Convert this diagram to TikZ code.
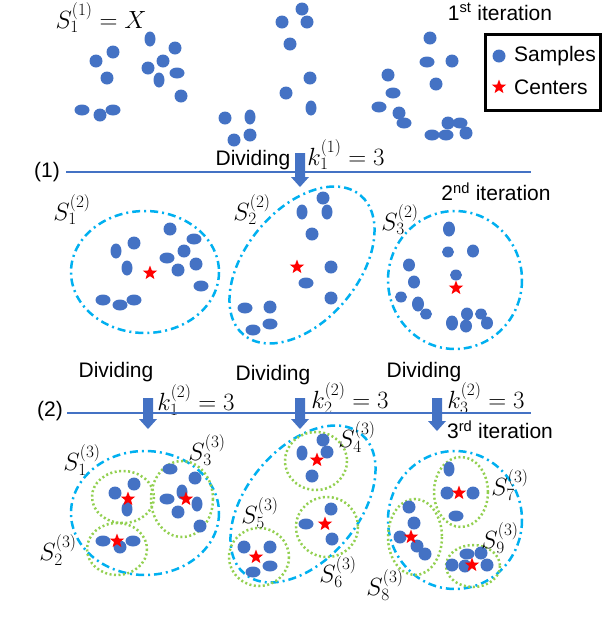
\documentclass[tikz,border=0pt]{standalone}
\usepackage{fontspec}
\setmainfont{Liberation Sans}
\usetikzlibrary{shapes.geometric}
\definecolor{dotblue}{HTML}{4472C4}
\definecolor{cyanl}{HTML}{00B0F0}
\definecolor{greenl}{HTML}{92D050}
\newcommand\blockarr[3]{\fill[dotblue] ({#1-5},#2) -- ({#1+5},#2) -- ({#1+5},{#3-10}) -- ({#1+9},{#3-10}) -- (#1,#3) -- ({#1-9},{#3-10}) -- ({#1-5},{#3-10}) -- cycle;}
\tikzset{
 dotn/.style={ellipse, fill=dotblue, inner sep=0, minimum width=13, minimum height=13},
 dotw/.style={dotn, minimum width=15, minimum height=11},
 dott/.style={dotn, minimum width=11, minimum height=15},
 starn/.style={star, star points=5, star point ratio=2.4, fill=red, inner sep=0, minimum size=15},
 bigell/.style={cyanl, line width=2.5pt, dash pattern=on 8pt off 4pt on 2pt off 4pt},
 smallell/.style={greenl, line width=2.5pt, dash pattern=on 2pt off 2.5pt},
 lbl/.style={font=\fontsize{21}{24}\selectfont, inner sep=0},
 mlbl/.style={font=\fontsize{23.5}{26}\selectfont, inner sep=0},
 sepline/.style={dotblue, line width=2pt},
}
\begin{document}
\begin{tikzpicture}[x=1pt,y=-1pt]
\useasboundingbox (0,0) rectangle (602,630);
\fill[white] (0,0) rectangle (602,630);

% ---------- 1st iteration ----------
\foreach \x/\y/\s [count=\i] in {96/61/n, 113/52/n, 107/78/n, 82/110/w, 100/115/n, 113/110/w, 150/39/t, 175/48/n, 163/61/n, 148/68/n, 177/73/w, 159/80/t, 181/96/n, 225/118/n, 250/117/t, 234/140/n, 250/135/n, 282/22/n, 290/44/n, 286/93/n, 302/9/n, 307/22/n, 310/78/n, 311/108/t, 388/75/n, 393/93/w, 379/107/w, 399/113/n, 404/123/w, 430/38/n, 427/62/w, 452/61/n, 436/84/n, 448/123/n, 460/123/w, 466/133/n, 432/135/w, 446/135/w}
  \node[dot\s] (a\i) at (\x,\y) {};

\node[mlbl] (s11) at (101,18) {$S_1^{(1)}=X$};
\node[lbl] (it1) at (500,12) {1\textsuperscript{st} iteration};

% legend
\draw[line width=3pt] (485,34) rectangle (600,110);
\node[dotn, minimum size=13] (legdot) at (499,56) {};
\node[lbl, anchor=west] (legs) at (514,56) {Samples};
\node[starn] (legstar) at (499,87) {};
\node[lbl, anchor=west] (legc) at (514,87) {Centers};

% ---------- divider (1) ----------
\node[lbl] (n1) at (47,172) {(1)};
\coordinate (l1a) at (66,172);
\coordinate (l1b) at (531,172);
\draw[sepline] (l1a) -- (l1b);
\node[lbl] (dv1) at (253,160) {Dividing};
\node[mlbl] (k1) at (346,155) {$k_1^{(1)}=3$};
\blockarr{300}{153}{187}
\node[lbl] (it2) at (496,192) {2\textsuperscript{nd} iteration};

% ---------- 2nd iteration ----------
\draw[bigell] (145,272) ellipse [x radius=74, y radius=61];
\draw[bigell, rotate around={50:(302,265)}] (302,265) ellipse [x radius=91, y radius=56];
\draw[bigell] (455,280) ellipse [x radius=67, y radius=69];

\foreach \x/\y/\s [count=\i] in {170/229/n, 194/239/w, 134/243/n, 116/251/t, 184/251/n, 167/258/w, 196/264/n, 127/268/t, 178/270/n, 201/286/w, 103/300/w, 120/305/w, 134/300/w}
  \node[dot\s] (b\i) at (\x,\y) {};
\node[starn] (cb1) at (150,273) {};

\foreach \x/\y/\s [count=\i] in {323/198/n, 302/212/t, 327/212/t, 312/234/n, 331/267/n, 306/283/w, 331/298/n, 245/308/w, 270/307/n, 253/330/w, 270/324/w}
  \node[dot\s] (c\i) at (\x,\y) {};
\node[starn] (cb2) at (297,267) {};

\foreach \x/\y/\s [count=\i] in {449/229/t, 448/252/w, 473/251/n, 409/265/n, 456/275/w, 414/282/n, 401/297/w, 418/304/t, 426/314/w, 452/323/t, 467/314/n, 481/314/w, 466/326/n, 487/323/n}
  \node[dot\s, minimum width=12] (d\i) at (\x,\y) {};
\node[starn] (cb3) at (456,288) {};

\node[mlbl] (s12) at (72,210) {$S_1^{(2)}$};
\node[mlbl] (s22) at (252,210) {$S_2^{(2)}$};
\node[mlbl] (s32) at (400,220) {$S_3^{(2)}$};

% ---------- divider (2) ----------
\node[lbl] (dv2) at (116,372) {Dividing};
\node[lbl] (dv3) at (273,375) {Dividing};
\node[lbl] (dv4) at (424,372) {Dividing};
\node[mlbl] (k21) at (196,400) {$k_1^{(2)}=3$};
\node[mlbl] (k22) at (350,398) {$k_2^{(2)}=3$};
\node[mlbl] (k23) at (486,398) {$k_3^{(2)}=3$};
\node[lbl] (n2) at (50,411) {(2)};
\coordinate (l2a) at (67,413);
\coordinate (l2b) at (531,413);
\draw[sepline] (l2a) -- (l2b);
\blockarr{148}{398}{429}
\blockarr{300}{398}{429}
\blockarr{437}{398}{431}
\node[lbl] (it3) at (500,430) {3\textsuperscript{rd} iteration};

% ---------- 3rd iteration ----------
\draw[bigell] (145,513) ellipse [x radius=74, y radius=62];
\draw[bigell, rotate around={50:(303,504)}] (303,504) ellipse [x radius=91, y radius=56];
\draw[bigell] (455,520) ellipse [x radius=67, y radius=69];

\draw[smallell] (123,497) ellipse [x radius=31, y radius=26];
\draw[smallell] (182,499) ellipse [x radius=31, y radius=38];
\draw[smallell] (117,549) ellipse [x radius=30, y radius=26];
\draw[smallell] (316,461) ellipse [x radius=31, y radius=29];
\draw[smallell] (327,527) ellipse [x radius=31, y radius=30];
\draw[smallell] (259,557) ellipse [x radius=30, y radius=29];
\draw[smallell] (461,492) ellipse [x radius=27, y radius=35];
\draw[smallell] (415,537) ellipse [x radius=27, y radius=38];
\draw[smallell] (473,566) ellipse [x radius=27, y radius=21];

\foreach \x/\y/\s [count=\i] in {115/493/n, 134/484/n, 127/509/t,
  170/469/w, 195/478/n, 167/499/w, 182/492/t, 197/504/t, 178/512/n, 200/526/n,
  103/541/w, 120/547/n, 133/541/w,
  323/440/n, 302/453/t, 327/452/n, 312/476/n,
  331/509/n, 306/524/w, 332/539/n,
  244/547/n, 270/547/n, 253/572/w, 270/566/w,
  449/469/t, 447/493/n, 473/493/n, 456/516/w,
  409/507/n, 414/523/n, 400/537/n, 417/546/n, 425/554/n,
  467/554/w, 481/553/n, 452/565/n, 465/566/n, 487/565/n}
  \node[dot\s] (e\i) at (\x,\y) {};
\foreach \x/\y [count=\i] in {128/499, 186/499, 117/541, 317/460, 325/524, 256/557, 459/493, 411/537, 472/565}
  \node[starn] (ce\i) at (\x,\y) {};

\node[mlbl] (s13) at (82,460) {$S_1^{(3)}$};
\node[mlbl] (s33) at (207,450) {$S_3^{(3)}$};
\node[mlbl] (s23) at (58,550) {$S_2^{(3)}$};
\node[mlbl] (s43) at (357,437) {$S_4^{(3)}$};
\node[mlbl] (s53) at (260,513) {$S_5^{(3)}$};
\node[mlbl] (s63) at (338,572) {$S_6^{(3)}$};
\node[mlbl] (s73) at (510,485) {$S_7^{(3)}$};
\node[mlbl] (s93) at (500,538) {$S_9^{(3)}$};
\node[mlbl] (s83) at (385,585) {$S_8^{(3)}$};
\end{tikzpicture}
\end{document}
